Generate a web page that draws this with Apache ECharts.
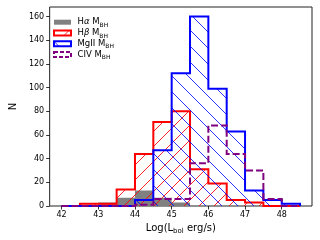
<!DOCTYPE html>
<html>
<head>
<meta charset="utf-8">
<script src="https://cdn.jsdelivr.net/npm/echarts@6/dist/echarts.min.js"></script>
<style>html,body{margin:0;padding:0;background:#fff}#c{width:320px;height:240px}</style>
</head>
<body>
<div id="c"></div>
<script>
const binEdges = [42, 42.5, 43, 43.5, 44, 44.5, 45, 45.5, 46, 46.5, 47, 47.5, 48, 48.5];
const halpha = [0, 1, 3, 7, 13, 7, 3, 0, 0, 0, 0, 0, 0];
const hbeta  = [0, 2, 2, 14, 44, 71, 80, 31, 19, 5, 3, 0, 0];
const mgii   = [0, 0, 0, 0, 5, 47, 112, 160, 99, 63, 13, 5, 2];
const civ    = [0, 0, 0, 0, 1, 6, 6, 36, 68, 44, 30, 6, 0];
const xTicks = [42, 43, 44, 45, 46, 47, 48];
const yTicks = [0, 20, 40, 60, 80, 100, 120, 140, 160];
const seriesNames = ['Hα M', 'Hβ M', 'MgII M', 'CIV M'];

function hatchPattern(color, size, dir) {
  const c = document.createElement('canvas');
  c.width = size; c.height = size;
  const g = c.getContext('2d');
  g.strokeStyle = color; g.lineWidth = 1;
  g.beginPath();
  for (let k = -1; k <= 1; k++) {
    if (dir === '/') { g.moveTo(k * size, size); g.lineTo(k * size + size, 0); }
    else { g.moveTo(k * size, 0); g.lineTo(k * size + size, size); }
  }
  g.stroke();
  return { image: c, repeat: 'repeat' };
}
const redHatch = hatchPattern('rgba(255,0,0,0.85)', 15, '/');
const blueHatch = hatchPattern('rgba(0,0,255,0.8)', 16, '\\');

function makeRender(values, opts) {
  return function (params, api) {
    if (params.dataIndex !== 0) return null;
    const pts = [api.coord([binEdges[0], 0])];
    for (let i = 0; i < values.length; i++) {
      pts.push(api.coord([binEdges[i], values[i]]));
      pts.push(api.coord([binEdges[i + 1], values[i]]));
    }
    pts.push(api.coord([binEdges[values.length], 0]));
    const children = [{ type: 'polygon', shape: { points: pts }, style: { fill: opts.fill, stroke: null } }];
    if (opts.stroke) {
      children.push({ type: 'polyline', shape: { points: pts },
        style: { fill: null, stroke: opts.stroke, lineWidth: 2, lineDash: opts.dash || null, lineJoin: 'miter' } });
    }
    return { type: 'group', children: children };
  };
}

const font = 'DejaVu Sans';
const chart = echarts.init(document.getElementById('c'), null, { renderer: 'canvas' });
chart.setOption({
  animation: false,
  grid: { left: 40.5, right: 8, top: 7, bottom: 34, show: true, borderColor: '#222', borderWidth: 1, backgroundColor: 'transparent' },
  xAxis: {
    type: 'value', min: 41.675, max: 48.825,
    name: '{n|Log(L}{s|bol}{n| erg/s)}', nameLocation: 'middle', nameGap: 14,
    nameTextStyle: { rich: {
      n: { fontFamily: font, fontSize: 10, color: '#000', lineHeight: 12 },
      s: { fontFamily: font, fontSize: 7, color: '#000', lineHeight: 6, verticalAlign: 'bottom' } } },
    axisLine: { show: false },
    axisTick: { show: true, inside: false, length: 3.5, lineStyle: { color: '#000', width: 0.8 }, customValues: xTicks },
    axisLabel: { fontFamily: font, fontSize: 8, color: '#000', margin: 4.5, customValues: xTicks },
    splitLine: { show: false }
  },
  yAxis: {
    type: 'value', min: 0, max: 168,
    name: 'N', nameLocation: 'middle', nameGap: 26,
    nameTextStyle: { fontFamily: font, fontSize: 10, color: '#000' },
    axisLine: { show: false },
    axisTick: { show: true, inside: false, length: 3.5, lineStyle: { color: '#000', width: 0.8 }, customValues: yTicks },
    axisLabel: { fontFamily: font, fontSize: 8, color: '#000', margin: 5.5, customValues: yTicks },
    splitLine: { show: false }
  },
  legend: {
    orient: 'vertical', left: 48, top: 12.7, itemWidth: 17, itemHeight: 5, itemGap: 0.3,
    selectedMode: false,
    textStyle: { rich: {
      n: { fontFamily: font, fontSize: 8.5, color: '#000', lineHeight: 12, padding: [0, 0, 0, 1.5] },
      a: { fontFamily: font, fontSize: 8.5, color: '#000', lineHeight: 12, fontStyle: 'italic' },
      m: { fontFamily: font, fontSize: 8.5, color: '#000', lineHeight: 12 },
      s: { fontFamily: font, fontSize: 6, color: '#000', lineHeight: 6, verticalAlign: 'bottom' } } },
    formatter: function (name) {
      if (name === seriesNames[0]) return '{n|H}{a|α}{m| M}{s|BH}';
      if (name === seriesNames[1]) return '{n|H}{a|β}{m| M}{s|BH}';
      return '{n|' + name + '}{s|BH}';
    },
    data: [
      { name: seriesNames[0], icon: 'rect', itemStyle: { color: '#808080', borderWidth: 0 } },
      { name: seriesNames[1], icon: 'rect', itemStyle: { color: redHatch, borderColor: '#ff0000', borderWidth: 2 } },
      { name: seriesNames[2], icon: 'rect', itemStyle: { color: blueHatch, borderColor: '#0000ff', borderWidth: 2 } },
      { name: seriesNames[3], icon: 'rect', itemStyle: { color: '#fff', borderColor: '#800080', borderWidth: 2, borderType: [4, 2] } }
    ]
  },
  series: [
    { type: 'custom', name: seriesNames[0], silent: true, data: [0], itemStyle: { color: '#808080' },
      renderItem: makeRender(halpha, { fill: '#808080' }) },
    { type: 'custom', name: seriesNames[1], silent: true, data: [0], itemStyle: { color: '#ff0000' },
      renderItem: makeRender(hbeta, { fill: redHatch, stroke: '#ff0000' }) },
    { type: 'custom', name: seriesNames[2], silent: true, data: [0], itemStyle: { color: '#0000ff' },
      renderItem: makeRender(mgii, { fill: blueHatch, stroke: '#0000ff' }) },
    { type: 'custom', name: seriesNames[3], silent: true, data: [0], itemStyle: { color: '#800080' },
      renderItem: makeRender(civ, { fill: 'rgba(0,0,0,0)', stroke: '#800080', dash: [7, 3] }) }
  ]
});
</script>
</body>
</html>
